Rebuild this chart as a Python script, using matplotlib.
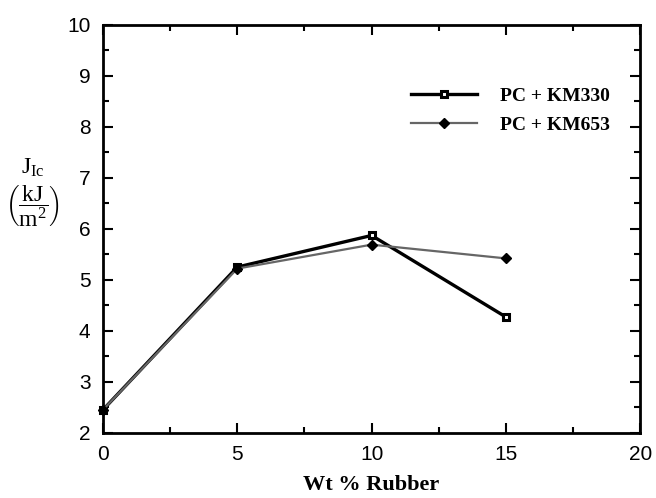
import numpy as np
import matplotlib.pyplot as plt
from matplotlib.ticker import MultipleLocator

# data
wt_rubber = [0, 5, 10, 15]
km330 = [2.45, 5.25, 5.87, 4.27]
km653 = [2.45, 5.22, 5.69, 5.42]

plt.rcParams['mathtext.fontset'] = 'custom'
plt.rcParams['mathtext.rm'] = 'Liberation Serif'
plt.rcParams['mathtext.it'] = 'Liberation Serif:italic'

fig = plt.figure(figsize=(6.56, 4.98), dpi=100)
ax = fig.add_axes([0.157, 0.131, 0.819, 0.819])

ax.plot(wt_rubber, km330, color='black', lw=2.4, marker='s', ms=5,
        mfc='white', mec='black', mew=2.2, label='PC + KM330', clip_on=False)
ax.plot(wt_rubber, km653, color='0.4', lw=1.6, marker='D', ms=5,
        mfc='black', mec='black', label='PC + KM653', clip_on=False)

ax.set_xlim(0, 20)
ax.set_ylim(2, 10)
ax.xaxis.set_major_locator(MultipleLocator(5))
ax.xaxis.set_minor_locator(MultipleLocator(2.5))
ax.yaxis.set_major_locator(MultipleLocator(1))
ax.yaxis.set_minor_locator(MultipleLocator(0.5))
ax.tick_params(which='both', direction='in', top=True, right=True, width=1.5)
ax.tick_params(which='major', length=7, labelsize=15, pad=9)
ax.tick_params(which='minor', length=4)
for lbl in ax.get_xticklabels() + ax.get_yticklabels():
    lbl.set_family('Liberation Sans')
for s in ax.spines.values():
    s.set_linewidth(2)

ax.set_xlabel('Wt % Rubber', family='Liberation Serif', fontsize=16,
              fontweight='bold', labelpad=8)
fig.text(0.05, 0.665, r'$\mathrm{J_{Ic}}$', fontsize=17, ha='center', va='center')
fig.text(0.05, 0.585, r'$\left(\dfrac{\mathrm{kJ}}{\mathrm{m^2}}\right)$', fontsize=17,
         ha='center', va='center')

ax.legend(loc='upper left', bbox_to_anchor=(0.54, 0.89), frameon=False,
          prop={'family': 'Liberation Serif', 'size': 14, 'weight': 'bold'},
          handlelength=3.4, handletextpad=1.2, labelspacing=0.6)

fig.savefig('out.png', dpi=100)
